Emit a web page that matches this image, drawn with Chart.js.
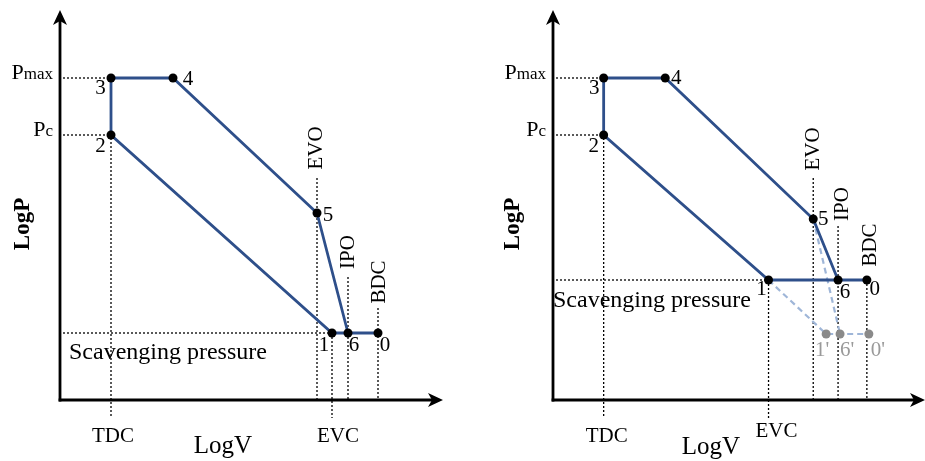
<!DOCTYPE html>
<html>
<head>
<meta charset="utf-8">
<script src="https://cdn.jsdelivr.net/npm/chart.js@4.4.1/dist/chart.umd.min.js"></script>
<style>
  html, body { margin: 0; padding: 0; background: #fff; }
  #wrap { position: relative; width: 925px; height: 461px; overflow: hidden; }
  canvas { position: absolute; top: 0; }
</style>
</head>
<body>
<div id="wrap">
  <canvas id="lowScav" width="463" height="461" style="left:0"></canvas>
  <canvas id="highScav" width="462" height="461" style="left:463px"></canvas>
</div>
<script>
// State points of the cycle, listed in drawing order 0 -> 1 -> 2 -> 3 -> 4 -> 5 -> 6
const stateNames = ['0', '1', '2', '3', '4', '5', '6'];

// Low scavenging pressure case
const lowLogV = [31.8, 27.2, 5.1, 5.1, 11.3, 25.7, 28.8];
const lowLogP = [6.7, 6.7, 26.5, 32.2, 32.2, 18.7, 6.7];

// High scavenging pressure case
const highLogV = [31.6, 21.7, 5.1, 5.1, 11.3, 26.2, 28.7];
const highLogP = [12.0, 12.0, 26.5, 32.2, 32.2, 18.1, 12.0];

// Primed states: the low-pressure reference shown on the second diagram
const primedNames = ["1'", "6'", "0'"];
const primedLogV = [27.5, 28.9, 31.8];
const primedLogP = [6.6, 6.6, 6.6];

// Pressure axis labels
const pressureLabels = ['Pmax', 'Pc'];
// Crank events on the volume axis
const eventNames = ['TDC', 'EVC', 'EVO', 'IPO', 'BDC'];

const SERIF = '"Liberation Serif", "Times New Roman", serif';
const NAVY = '#2e4f8a';
const LIGHT = '#9fb6d8';
const GREY = '#8a8a8a';

const pts = (vs, ps) => vs.map((v, i) => ({ x: v, y: ps[i] }));
const idx = n => stateNames.indexOf(n);

function pvPlugin(c) {
  return {
    id: 'pvDiagram',
    beforeDatasetsDraw(chart) {
      const ctx = chart.ctx;
      const X = v => chart.scales.x.getPixelForValue(v);
      const Y = p => chart.scales.y.getPixelForValue(p);
      const seg = (x1, y1, x2, y2) => { ctx.beginPath(); ctx.moveTo(x1, y1); ctx.lineTo(x2, y2); ctx.stroke(); };
      ctx.save();
      // dotted guide lines
      ctx.strokeStyle = '#000';
      ctx.lineWidth = 1.3;
      ctx.setLineDash([2, 2]);
      const ox = X(0), oy = Y(0);
      c.hGuides.forEach(g => seg(ox + 3, Y(g.p), X(g.v), Y(g.p)));
      c.vGuides.forEach(g => seg(X(g.v), Y(g.top), X(g.v), Y(g.bottom)));
      ctx.setLineDash([]);

      // axes with arrow heads
      ctx.lineWidth = 2.8;
      ctx.strokeStyle = '#000';
      ctx.fillStyle = '#000';
      seg(ox, oy + 1.4, ox, c.yTip + 10);
      seg(ox - 1.4, oy, c.xTip - 10, oy);
      ctx.beginPath();
      ctx.moveTo(ox, c.yTip);
      ctx.lineTo(ox - 7, c.yTip + 15);
      ctx.lineTo(ox, c.yTip + 11);
      ctx.lineTo(ox + 7, c.yTip + 15);
      ctx.closePath();
      ctx.fill();
      ctx.beginPath();
      ctx.moveTo(c.xTip, oy);
      ctx.lineTo(c.xTip - 15, oy - 7);
      ctx.lineTo(c.xTip - 11, oy);
      ctx.lineTo(c.xTip - 15, oy + 7);
      ctx.closePath();
      ctx.fill();
      ctx.restore();
    },
    afterDatasetsDraw(chart) {
      const ctx = chart.ctx;
      const X = v => chart.scales.x.getPixelForValue(v);
      const Y = p => chart.scales.y.getPixelForValue(p);
      const ox = X(0);
      ctx.save();
      ctx.fillStyle = '#000';

      // pressure labels: P with a smaller suffix, right aligned next to the axis
      c.pLabels.forEach(l => {
        const main = l.text[0], sub = l.text.slice(1);
        ctx.font = '22px ' + SERIF;
        const wMain = ctx.measureText(main).width;
        ctx.font = '17px ' + SERIF;
        const wSub = ctx.measureText(sub).width;
        const right = ox - 7, base = Y(l.p) + 1;
        ctx.textAlign = 'left';
        ctx.textBaseline = 'alphabetic';
        ctx.font = '22px ' + SERIF;
        ctx.fillText(main, right - wSub - wMain, base);
        ctx.font = '17px ' + SERIF;
        ctx.fillText(sub, right - wSub, base);
      });

      // state numbers
      ctx.font = '21px ' + SERIF;
      ctx.textAlign = 'center';
      ctx.textBaseline = 'middle';
      c.stateLabels.forEach(l => {
        ctx.fillStyle = l.color || '#000';
        ctx.fillText(l.text, X(l.v) + l.dx, Y(l.p) + l.dy);
      });
      ctx.fillStyle = '#000';

      // crank events below the axis
      ctx.font = '21px ' + SERIF;
      ctx.textBaseline = 'alphabetic';
      c.bottomLabels.forEach(l => ctx.fillText(l.text, X(l.v) + l.dx, l.base));

      // crank events written upright along their guides
      c.sideLabels.forEach(l => {
        ctx.save();
        ctx.translate(X(l.v) + l.dx, l.cy);
        ctx.rotate(-Math.PI / 2);
        ctx.textBaseline = 'middle';
        ctx.fillText(l.text, 0, 0);
        ctx.restore();
      });

      // axis titles
      ctx.font = '25px ' + SERIF;
      ctx.fillText('LogV', ox + c.logVdx, c.logVbase);
      ctx.save();
      ctx.translate(c.logPx, 224);
      ctx.rotate(-Math.PI / 2);
      ctx.textBaseline = 'middle';
      ctx.font = 'bold 23px ' + SERIF;
      ctx.fillText('LogP', 0, 0);
      ctx.restore();

      // scavenging pressure note
      ctx.font = '24px ' + SERIF;
      ctx.textAlign = 'left';
      ctx.fillText('Scavenging pressure', ox + c.scav.dx, Y(c.scav.p) + c.scav.dy);
      ctx.restore();
    }
  };
}

function baseOptions(pad, xMax) {
  return {
    responsive: false,
    animation: false,
    layout: { padding: pad },
    plugins: { legend: { display: false }, tooltip: { enabled: false } },
    scales: {
      x: { type: 'linear', display: false, min: 0, max: xMax },
      y: { type: 'linear', display: false, min: 0, max: 38.8 }
    },
    elements: { line: { tension: 0 } }
  };
}

// ---------- low scavenging pressure ----------
const lo = n => ({ v: lowLogV[idx(n)], p: lowLogP[idx(n)] });
new Chart(document.getElementById('lowScav'), {
  type: 'scatter',
  data: {
    datasets: [{
      data: pts(lowLogV, lowLogP),
      showLine: true,
      borderColor: NAVY,
      borderWidth: 2.8,
      pointRadius: 4.5,
      pointBackgroundColor: '#000',
      pointBorderWidth: 0,
      clip: false
    }]
  },
  options: baseOptions({ left: 60, top: 12, right: 23, bottom: 61 }, 38),
  plugins: [pvPlugin({
    yTip: 10, xTip: 443,
    hGuides: [lo('3'), lo('2'), lo('1')],
    vGuides: [
      { v: lo('2').v, top: lo('3').p, bottom: -1.8 },
      { v: lo('5').v, top: 22.2, bottom: 0 },
      { v: lo('1').v, top: lo('1').p, bottom: -1.8 },
      { v: lo('6').v, top: 12.3, bottom: 0 },
      { v: lo('0').v, top: 9.2, bottom: 0 }
    ],
    pLabels: [
      { text: pressureLabels[0], p: lo('3').p },
      { text: pressureLabels[1], p: lo('2').p }
    ],
    stateLabels: [
      { text: '3', ...lo('3'), dx: -10.5, dy: 10 },
      { text: '2', ...lo('2'), dx: -10.5, dy: 11 },
      { text: '4', ...lo('4'), dx: 15, dy: 1 },
      { text: '5', ...lo('5'), dx: 11, dy: 2 },
      { text: '1', ...lo('1'), dx: -8, dy: 12 },
      { text: '6', ...lo('6'), dx: 6, dy: 12 },
      { text: '0', ...lo('0'), dx: 7, dy: 12 }
    ],
    bottomLabels: [
      { text: eventNames[0], v: lo('2').v, dx: 2, base: 442 },
      { text: eventNames[1], v: lo('1').v, dx: 6, base: 442 }
    ],
    sideLabels: [
      { text: eventNames[2], v: lo('5').v, dx: -1, cy: 148 },
      { text: eventNames[3], v: lo('6').v, dx: 0, cy: 252 },
      { text: eventNames[4], v: lo('0').v, dx: 1, cy: 282 }
    ],
    logVdx: 163, logVbase: 453, logPx: 23,
    scav: { p: lo('1').p, dx: 9, dy: 26 }
  })]
});

// ---------- high scavenging pressure ----------
const hi = n => ({ v: highLogV[idx(n)], p: highLogP[idx(n)] });
const pr = n => ({ v: primedLogV[primedNames.indexOf(n)], p: primedLogP[primedNames.indexOf(n)] });
new Chart(document.getElementById('highScav'), {
  type: 'scatter',
  data: {
    datasets: [
      {
        data: pts(highLogV, highLogP),
        showLine: true,
        borderColor: NAVY,
        borderWidth: 2.8,
        pointRadius: 4.5,
        pointBackgroundColor: '#000',
        pointBorderWidth: 0,
        clip: false,
        order: 0
      },
      {
        // 1 -> 1' -> 6' -> 0'
        data: [{ x: hi('1').v, y: hi('1').p }].concat(pts(primedLogV, primedLogP)),
        showLine: true,
        borderColor: LIGHT,
        borderWidth: 2.2,
        borderDash: [6, 4],
        pointRadius: [0, 4.5, 4.5, 4.5],
        pointBackgroundColor: GREY,
        pointBorderWidth: 0,
        clip: false,
        order: 1
      },
      {
        // 5 -> 6'
        data: [{ x: hi('5').v, y: hi('5').p }, { x: pr("6'").v, y: pr("6'").p }],
        showLine: true,
        borderColor: LIGHT,
        borderWidth: 2.2,
        borderDash: [6, 4],
        pointRadius: 0,
        clip: false,
        order: 2
      }
    ]
  },
  options: baseOptions({ left: 90, top: 12, right: 2, bottom: 61 }, 37),
  plugins: [pvPlugin({
    yTip: 10, xTip: 462,
    hGuides: [hi('3'), hi('2'), hi('1')],
    vGuides: [
      { v: hi('2').v, top: hi('3').p, bottom: -1.8 },
      { v: hi('5').v, top: 22.2, bottom: 0 },
      { v: hi('1').v, top: hi('1').p, bottom: -1.8 },
      { v: hi('6').v, top: 17.4, bottom: 0 },
      { v: hi('0').v, top: hi('0').p, bottom: 0 }
    ],
    pLabels: [
      { text: pressureLabels[0], p: hi('3').p },
      { text: pressureLabels[1], p: hi('2').p }
    ],
    stateLabels: [
      { text: '3', ...hi('3'), dx: -9.5, dy: 10 },
      { text: '2', ...hi('2'), dx: -10, dy: 11 },
      { text: '4', ...hi('4'), dx: 11, dy: 0 },
      { text: '5', ...hi('5'), dx: 10, dy: 0 },
      { text: '1', ...hi('1'), dx: -7, dy: 9 },
      { text: '6', ...hi('6'), dx: 7, dy: 12 },
      { text: '0', ...hi('0'), dx: 8, dy: 9 },
      { text: "1'", ...pr("1'"), dx: -4, dy: 16, color: '#9a9a9a' },
      { text: "6'", ...pr("6'"), dx: 7, dy: 16, color: '#9a9a9a' },
      { text: "0'", ...pr("0'"), dx: 9, dy: 16, color: '#9a9a9a' }
    ],
    bottomLabels: [
      { text: eventNames[0], v: hi('2').v, dx: 3, base: 442 },
      { text: eventNames[1], v: hi('1').v, dx: 8, base: 437 }
    ],
    sideLabels: [
      { text: eventNames[2], v: hi('5').v, dx: 0, cy: 149 },
      { text: eventNames[3], v: hi('6').v, dx: 4, cy: 204 },
      { text: eventNames[4], v: hi('0').v, dx: 4, cy: 245 }
    ],
    logVdx: 158, logVbase: 454, logPx: 50,
    scav: { p: hi('1').p, dx: 0, dy: 27 }
  })]
});
</script>
</body>
</html>
